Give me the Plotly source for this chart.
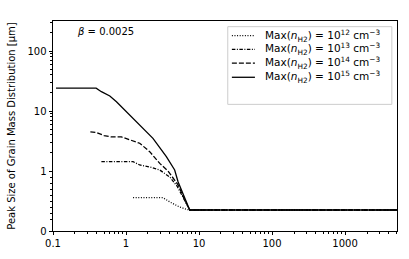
import numpy as np
import plotly.graph_objects as go

# ---- data ----
x_15 = [0.11, 0.39, 0.46, 0.6, 0.74, 0.96, 1.54, 2.34, 3.57, 4.64, 5.16, 7.07, 7.46, 5150]
y_15 = [24, 24, 21, 17.8, 14.3, 10.4, 5.8, 3.5, 1.73, 1.04, 0.82, 0.40, 0.35, 0.35]

x_14 = [0.325, 0.39, 0.5, 0.63, 0.865, 1.065, 1.32, 1.54, 2.11, 2.9, 3.76, 5.16, 6.35, 7.46, 5150]
y_14 = [4.5, 4.4, 3.9, 3.7, 3.7, 3.38, 3.08, 2.9, 2.1, 1.34, 1.0, 0.77, 0.52, 0.35, 0.35]

x_13 = [0.46, 1.25, 1.54, 2.23, 2.9, 3.97, 5.0, 6.35, 7.46, 5150]
y_13 = [1.43, 1.43, 1.26, 1.15, 1.04, 0.9, 0.75, 0.52, 0.35, 0.35]

x_12 = [1.25, 3.2, 4.18, 5.43, 6.8, 7.46, 5150]
y_12 = [0.555, 0.555, 0.47, 0.40, 0.36, 0.35, 0.35]

x_tick_vals = [0.1, 1, 10, 100, 1000]
x_tick_text = ["0.1", "1", "10", "100", "1000"]
y_tick_vals = [0, 1, 10, 100]
y_tick_text = ["0", "1", "10", "100"]

series_labels = [
    "Max(<i>n</i><sub>H2</sub>) = 10<sup>12</sup> cm<sup>−3</sup>",
    "Max(<i>n</i><sub>H2</sub>) = 10<sup>13</sup> cm<sup>−3</sup>",
    "Max(<i>n</i><sub>H2</sub>) = 10<sup>14</sup> cm<sup>−3</sup>",
    "Max(<i>n</i><sub>H2</sub>) = 10<sup>15</sup> cm<sup>−3</sup>",
]


def symlog(v):
    """symlog transform, linthresh=1, linscale=1"""
    v = np.asarray(v, dtype=float)
    return np.where(v <= 1, v, 1 + np.log10(np.maximum(v, 1e-12)))


series = [
    (x_12, y_12, "1px,1.6px"),
    (x_13, y_13, "3.5px,1.5px,1px,1.5px"),
    (x_14, y_14, "5px,2px"),
    (x_15, y_15, "solid"),
]

fig = go.Figure()
for (xs, ys, dash), name in zip(series, series_labels):
    fig.add_trace(go.Scatter(
        x=xs, y=symlog(ys), mode="lines", name=name, showlegend=False,
        line=dict(color="black", width=1.3, dash=dash),
    ))

# ---- legend drawn as box + sample lines + text (compact rows like the reference) ----
shapes = [dict(type="rect", xref="paper", yref="paper",
               x0=0.508, x1=0.985, y0=0.603, y1=0.973,
               line=dict(color="#cccccc", width=1), fillcolor="rgba(255,255,255,0.8)",
               layer="above")]
annotations = []
row_y = [0.930, 0.865, 0.799, 0.732]
for (xs, ys, dash), name, ry in zip(series, series_labels, row_y):
    shapes.append(dict(type="line", xref="paper", yref="paper",
                       x0=0.520, x1=0.587, y0=ry, y1=ry,
                       line=dict(color="black", width=1.3, dash=dash), layer="above"))
    annotations.append(dict(text=name, xref="paper", yref="paper",
                            x=0.610, y=ry, xanchor="left", yanchor="middle",
                            showarrow=False, font=dict(size=10.5)))

annotations.append(dict(
    text="<i>β</i> = 0.0025", xref="paper", yref="paper",
    x=0.064, y=0.952, xanchor="left", yanchor="middle",
    showarrow=False, font=dict(size=10),
))

x_minor = [k * 10.0 ** d for d in range(-1, 4) for k in range(2, 10) if k * 10.0 ** d <= 5150]
y_minor = [k / 10 for k in range(2, 10)] + [float(symlog(k * 10.0 ** d)) for d in range(0, 3)
                                            for k in range(2, 10) if k * 10.0 ** d <= 316]

fig.update_layout(
    width=409, height=259,
    margin=dict(l=53, r=12, t=21, b=28),
    paper_bgcolor="white", plot_bgcolor="white",
    font=dict(family="DejaVu Sans", size=10, color="black"),
    showlegend=False,
    xaxis=dict(
        type="log", range=[-1, np.log10(5150)], automargin=False,
        tickmode="array", tickvals=x_tick_vals, ticktext=x_tick_text,
        ticks="outside", ticklen=3.5, tickwidth=0.8, tickcolor="black",
        showline=True, linecolor="black", linewidth=0.8, mirror=True,
        showgrid=False, zeroline=False,
        minor=dict(tickmode="array", tickvals=x_minor, ticks="outside", ticklen=2,
                   tickwidth=0.6, tickcolor="black", showgrid=False),
    ),
    yaxis=dict(
        range=[0, 3.5], automargin=False,
        tickmode="array", tickvals=[float(symlog(v)) for v in y_tick_vals], ticktext=y_tick_text,
        ticks="outside", ticklen=3.5, tickwidth=0.8, tickcolor="black",
        showline=True, linecolor="black", linewidth=0.8, mirror=True,
        showgrid=False, zeroline=False,
        title=dict(text="Peak Size of Grain Mass Distribution [μm]", standoff=10,
                   font=dict(size=10)),
        minor=dict(tickmode="array", tickvals=y_minor, ticks="outside", ticklen=2,
                   tickwidth=0.6, tickcolor="black", showgrid=False),
    ),
    shapes=shapes,
    annotations=annotations,
)

fig.write_html("out.html", config={"displayModeBar": False},
               post_script="document.body.style.margin='0';")
